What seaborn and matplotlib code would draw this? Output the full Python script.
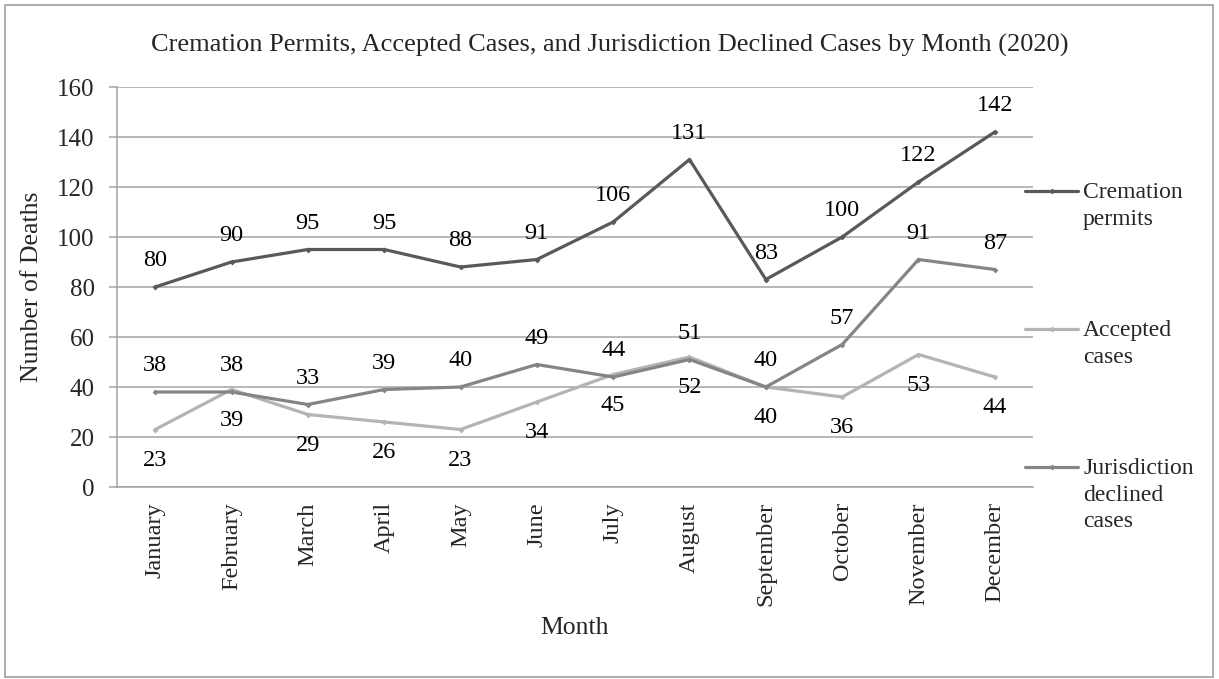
import matplotlib
matplotlib.use("Agg")
import matplotlib.pyplot as plt
import pandas as pd
import seaborn as sns
from matplotlib.lines import Line2D
from matplotlib.patches import Rectangle

months = ["January", "February", "March", "April", "May", "June", "July",
          "August", "September", "October", "November", "December"]
cremation_permits = [80, 90, 95, 95, 88, 91, 106, 131, 83, 100, 122, 142]
accepted_cases = [23, 39, 29, 26, 23, 34, 45, 52, 40, 36, 53, 44]
declined_cases = [38, 38, 33, 39, 40, 49, 44, 51, 40, 57, 91, 87]

series_names = ["Cremation permits", "Accepted cases", "Jurisdiction declined cases"]
legend_labels = ["Cremation\npermits", "Accepted\ncases", "Jurisdiction\ndeclined\ncases"]
colors = ["#595959", "#b4b4b4", "#858585"]
label_offsets = [19, -22, 19]  # points, above or below the point

sns.set_theme(style="white")
plt.rcParams["font.family"] = ["Liberation Serif", "DejaVu Serif"]

df = pd.DataFrame({
    "Month": months * 3,
    "Deaths": cremation_permits + accepted_cases + declined_cases,
    "Series": [s for s in series_names for _ in months],
})

W, H = 1219, 679
fig = plt.figure(figsize=(W / 100, H / 100), dpi=100)
ax = fig.add_axes([117 / W, 1 - 487 / H, (1033 - 117) / W, 400 / H])

grid_c = "#a3a3a3"
sns.lineplot(data=df, x="Month", y="Deaths", hue="Series", hue_order=series_names,
             palette=colors, sort=False, linewidth=2.3, marker="D", markersize=3,
             markeredgewidth=0, legend=False, ax=ax)

# data labels
for vals, name, off in zip([cremation_permits, accepted_cases, declined_cases], series_names, label_offsets):
    for i, v in enumerate(vals):
        ax.annotate(str(v), (i, v), xytext=(0, off), textcoords="offset points",
                    ha="center", va="center", fontsize=17.5, color="black")

ax.set_xlim(-0.5, len(months) - 0.5)
ax.set_ylim(0, 160)
ax.set_yticks(range(0, 161, 20))
ax.yaxis.grid(True, color=grid_c, linewidth=1.1)
ax.xaxis.grid(False)
for side in ["top", "right"]:
    ax.spines[side].set_visible(False)
for side in ["left", "bottom"]:
    ax.spines[side].set_color(grid_c)
    ax.spines[side].set_linewidth(1.1)

ax.tick_params(axis="y", left=True, length=6, width=1.1, color=grid_c, pad=10, labelsize=18)
ax.tick_params(axis="x", bottom=False, pad=5, labelsize=17.5)
plt.setp(ax.get_xticklabels(), rotation=90, ha="center", va="top")

ax.set_ylabel("Number of Deaths", fontsize=18.5, va="center")
ax.yaxis.set_label_coords(-0.093, 0.5)
ax.set_xlabel("Month", fontsize=18.5, va="center")
ax.xaxis.set_label_coords(0.5, -0.3525)

fig.text(610 / W, 1 - 45 / H,
         "Cremation Permits, Accepted Cases, and Jurisdiction Declined Cases by Month (2020)",
         ha="center", va="center", fontsize=19)

# legend on the right, handle next to the first line of each entry
handle_y = [191, 329, 467]
for lab, c, y in zip(legend_labels, colors, handle_y):
    fig.add_artist(Line2D([1025 / W, 1051.5 / W, 1078 / W], [1 - y / H] * 3, color=c,
                          linewidth=2.3, marker="D", markersize=3, markevery=[1],
                          markeredgewidth=0, transform=fig.transFigure))
    fig.text(1083 / W, 1 - (y - 9) / H, lab, ha="left", va="top",
             fontsize=17, linespacing=1.35)

# chart border
fig.add_artist(Rectangle((5 / W, 2 / H), (1213 - 5) / W, (674 - 2) / H, fill=False,
                         edgecolor="#a0a0a0", linewidth=1.2, transform=fig.transFigure))

fig.savefig("out.png", dpi=100)
